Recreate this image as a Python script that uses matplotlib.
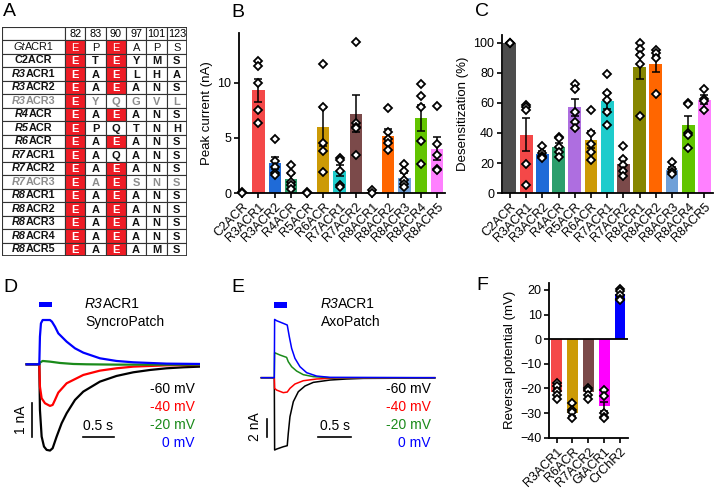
import numpy as np
import matplotlib
matplotlib.use('Agg')
import matplotlib.pyplot as plt
from matplotlib.patches import Rectangle
from matplotlib.offsetbox import TextArea, HPacker, AnnotationBbox

plt.rcParams['font.family'] = ['Liberation Sans', 'DejaVu Sans']

# ---------------------------------------------------------------- data
# panel A: residues at the listed positions
SITES = ['82', '83', '90', '97', '101', '123']
TABLE_PREFIX = ['Gt', '', 'R3', 'R3', 'R3', 'R4', 'R5', 'R6', 'R7', 'R7', 'R7',
                'R8', 'R8', 'R8', 'R8', 'R8']
TABLE_SUFFIX = ['ACR1', 'C2ACR', 'ACR1', 'ACR2', 'ACR3', 'ACR', 'ACR', 'ACR',
                'ACR1', 'ACR2', 'ACR3', 'ACR1', 'ACR2', 'ACR3', 'ACR4', 'ACR5']
RESIDUES = ['EPEAPS', 'ETEYMS', 'EAELHA', 'EAEANS', 'EYQGVL', 'EAEANS',
            'EPQTNH', 'EAEANS', 'EAQANS', 'EAEANS', 'EAESNS', 'EAEANS',
            'EAEANS', 'EAEANS', 'EAEANS', 'EAEAMS']
GRAY_ROWS = [4, 10]          # R3ACR3, R7ACR3
LIGHT_ROWS = [0]             # GtACR1 (regular weight)

# panels B, C
ACRS = ['C2ACR', 'R3ACR1', 'R3ACR2', 'R4ACR', 'R5ACR', 'R6ACR', 'R7ACR1',
        'R7ACR2', 'R8ACR1', 'R8ACR2', 'R8ACR3', 'R8ACR4', 'R8ACR5']
ACR_COLORS = ['#4d4d4d', '#f44848', '#1f6bd8', '#2c9e6c', '#ae6ee0', '#cc9a06',
              '#1ecccc', '#7b4a4a', '#868600', '#ff6600', '#6fa0d8', '#62c400',
              '#ff80ff']

PEAK_MEAN = [0.05, 9.3, 2.7, 1.3, 0.05, 6.0, 2.0, 7.2, 0.1, 5.2, 1.4, 6.8, 4.0]
PEAK_SEM = [0, 1.05, 0.55, 0.45, 0, 1.7, 0.5, 1.65, 0.05, 0.6, 0.45, 1.15, 1.05]
PEAK_PTS = [[0.05, 0.0],
            [12.0, 11.5, 10.0, 7.5, 6.3],
            [4.9, 2.9, 2.4, 1.8, 1.6],
            [2.5, 1.8, 1.0, 0.7, 0.4],
            [0.05, 0.0],
            [11.7, 7.8, 4.5, 3.8, 1.9],
            [3.2, 3.0, 2.0, 0.7, 0.5],
            [13.7, 6.3, 6.0, 5.9, 3.4],
            [0.3, 0.0],
            [7.7, 5.5, 4.9, 4.5, 3.9],
            [2.6, 2.0, 1.2, 0.8, 0.5],
            [9.9, 8.8, 7.8, 4.7, 2.6],
            [7.9, 4.4, 3.4, 2.2, 2.1]]

DES_MEAN = [100, 39, 26, 30.5, 57, 35.5, 61.5, 19.5, 84, 86, 15.5, 45.5, 62]
DES_SEM = [0, 11, 1.8, 3, 5.8, 5.5, 5.8, 4, 8.5, 5.3, 1.8, 6, 3]
DES_PTS = [[100, 100, 100, 99.5],
           [58.5, 57, 55.5, 19.2, 5.5],
           [31.6, 26.5, 25, 24, 23.5],
           [37.5, 36.5, 31, 27.7, 24],
           [72.5, 69.5, 54, 47, 43],
           [55, 40, 32.5, 27.5, 22],
           [79, 66.5, 62, 54, 45.5],
           [31.5, 23, 19, 14.5, 11.5],
           [100, 95.5, 92, 85.5, 51.5],
           [95, 93, 90, 66],
           [21, 16, 14, 13],
           [60, 59.5, 40, 38.5, 30],
           [69.5, 62.5, 61.5, 55.5]]

# panel F
REV_LABELS = ['R3ACR1', 'R6ACR', 'R7ACR2', 'GtACR1', 'CrChR2']
REV_COLORS = ['#f44848', '#cc9a06', '#7b4a4a', '#ff00ff', '#0000ff']
REV_MEAN = [-21.5, -30, -21.5, -27.3, 18.5]
REV_SEM = [1.2, 1.3, 1.0, 1.8, 0.9]
REV_PTS = [[-17.8, -19, -21.2, -22.6, -24.2],
           [-26, -28.6, -29.6, -32],
           [-19.9, -20.5, -22.6, -24.2],
           [-20.8, -23, -30, -31.6, -32],
           [20.4, 19.7, 18, 16.4, 15.7]]

# panel D: SyncroPatch traces (time s, current nA)
D_T_M60 = [-0.2, 0, 0.01, 0.037, 0.074, 0.116, 0.169, 0.211, 0.274, 0.353, 0.432,
           0.564, 0.695, 0.958, 1.22, 1.485, 1.75, 2.01, 2.275, 2.54]
D_I_M60 = [0, 0, -1.37, -2.17, -2.47, -2.57, -2.59, -2.52, -2.17, -1.77, -1.47,
           -1.07, -0.82, -0.52, -0.35, -0.24, -0.17, -0.12, -0.09, -0.07]
D_T_M40 = [-0.2, 0, 0.01, 0.037, 0.09, 0.169, 0.211, 0.248, 0.3, 0.432, 0.695,
           0.958, 1.22, 1.485, 2.01, 2.54]
D_I_M40 = [0, 0, -0.67, -1.02, -1.17, -1.25, -1.22, -1.07, -0.85, -0.57, -0.32,
           -0.19, -0.12, -0.07, -0.03, -0.02]
D_T_M20 = [-0.2, 0, 0.01, 0.053, 0.169, 0.327, 0.537, 0.748, 1.22, 2.54]
D_I_M20 = [0, 0, 0.05, 0.1, 0.08, 0.04, 0.01, 0.0, -0.01, -0.01]
D_T_0 = [-0.2, 0, 0.01, 0.026, 0.053, 0.169, 0.2, 0.248, 0.3, 0.432, 0.564, 0.695,
         0.958, 1.22, 1.485, 2.01, 2.54]
D_I_0 = [0, 0, 0.83, 1.23, 1.33, 1.33, 1.28, 1.13, 0.93, 0.68, 0.48, 0.35, 0.18,
         0.1, 0.06, 0.02, 0.01]

# panel E: AxoPatch traces (time s, current nA)
E_T_M60 = [-0.2, 0, 0.005, 0.036, 0.139, 0.2, 0.216, 0.242, 0.294, 0.371, 0.474,
           0.603, 0.861, 1.118, 1.376, 2.48]
E_I_M60 = [0, 0, -8.36, -8.25, -7.98, -7.86, -6.44, -4.51, -2.77, -1.62, -0.96,
           -0.54, -0.27, -0.15, -0.08, -0.04]
E_T_M40 = [-0.2, 0, 0.005, 0.036, 0.139, 0.2, 0.242, 0.319, 0.448, 0.654, 0.963, 2.48]
E_I_M40 = [0, 0, -1.23, -1.43, -1.73, -1.66, -1.23, -0.73, -0.35, -0.15, -0.04, 0]
E_T_M20 = [-0.2, 0, 0.005, 0.088, 0.19, 0.216, 0.268, 0.345, 0.448, 0.603, 0.861, 2.48]
E_I_M20 = [0, 0, 2.89, 2.62, 2.35, 1.85, 1.27, 0.77, 0.35, 0.12, 0, 0]
E_T_0 = [-0.2, 0, 0.005, 0.036, 0.139, 0.2, 0.232, 0.268, 0.319, 0.397, 0.5, 0.654,
         0.861, 2.48]
E_I_0 = [0, 0, 6.74, 6.59, 6.28, 6.09, 4.74, 3.39, 2.24, 1.27, 0.58, 0.19, 0.04, 0]

VOLT_LABELS = ['-60 mV', '-40 mV', '-20 mV', '0 mV']
VOLT_COLORS = ['black', '#ff0000', '#1a8a1a', '#0000ff']
LIGHT_DUR = 0.2   # s
RED = '#ee1c25'

# ---------------------------------------------------------------- figure
W, H = 714, 495
fig = plt.figure(figsize=(W / 100, H / 100), dpi=100)


def box(x0, y0, x1, y1):
    # pixel box (top-left origin) -> figure fraction rect
    return [x0 / W, 1 - y1 / H, (x1 - x0) / W, (y1 - y0) / H]


def ftext(x, y, s, **kw):
    fig.text(x / W, 1 - y / H, s, **kw)


def mixed_label(ax, x, y, prefix, rest, size, weight='normal', color='k',
                halign=0.5, coords='data'):
    parts = []
    if prefix:
        parts.append(TextArea(prefix, textprops=dict(fontsize=size, fontweight=weight,
                                                     fontstyle='italic', color=color)))
    parts.append(TextArea(rest, textprops=dict(fontsize=size, fontweight=weight, color=color)))
    pack = HPacker(children=parts, align='baseline', pad=0, sep=0)
    ab = AnnotationBbox(pack, (x, y), xycoords=coords, frameon=False,
                        box_alignment=(halign, 0.5), pad=0, annotation_clip=False)
    ax.add_artist(ab)


# ---------------- A: table
axA = fig.add_axes(box(2, 26.7, 187, 256.2))
name_w = 3.1
edges = [0, name_w] + [name_w + i + 1 for i in range(len(SITES))]
n_rows = len(RESIDUES) + 1
axA.set_xlim(0, edges[-1])
axA.set_ylim(n_rows, 0)
axA.axis('off')
for r in range(n_rows):
    for c in range(len(edges) - 1):
        x0, w = edges[c], edges[c + 1] - edges[c]
        fc = 'white'
        if r > 0 and c > 0 and RESIDUES[r - 1][c - 1] == 'E':
            fc = RED
        axA.add_patch(Rectangle((x0, r), w, 1, facecolor=fc, edgecolor='#333333', lw=0.8))
for c, s in enumerate(SITES):
    axA.text((edges[c + 1] + edges[c + 2]) / 2, 0.55, s, ha='center', va='center', fontsize=7.8)
for i, res in enumerate(RESIDUES):
    r = i + 1
    col = '#8c8c8c' if i in GRAY_ROWS else '#111111'
    wt = 'normal' if i in LIGHT_ROWS else 'bold'
    mixed_label(axA, name_w / 2, r + 0.5, TABLE_PREFIX[i], TABLE_SUFFIX[i], 7.8, wt, col)
    for c, aa in enumerate(res):
        tc = 'white' if aa == 'E' else col
        axA.text((edges[c + 1] + edges[c + 2]) / 2, r + 0.55, aa, ha='center', va='center',
                 fontsize=8, fontweight=wt, color=tc)
axA.add_patch(Rectangle((0, 0), edges[-1], n_rows, fill=False, edgecolor='#333333', lw=1.3))


# ---------------- B, C, F bar panels
def bar_panel(rect, labels, means, sems, points, colors, xlim, ylim, yticks, ylabel, width):
    ax = fig.add_axes(box(*rect))
    x = np.arange(len(labels))
    ax.bar(x, means, width=width, color=colors, zorder=1)
    ax.errorbar(x, means, yerr=sems, fmt='none', ecolor='k', elinewidth=1.1,
                capsize=3, capthick=1.1, zorder=2)
    for xi, pts in zip(x, points):
        ax.plot([xi] * len(pts), pts, ls='none', marker='D', ms=3.9, mfc='white',
                mec='k', mew=1.3, zorder=3, clip_on=False)
    ax.set_xlim(*xlim)
    ax.set_ylim(*ylim)
    ax.set_yticks(yticks)
    ax.set_xticks(x)
    ax.set_xticklabels(labels, rotation=45, ha='right', rotation_mode='anchor')
    ax.set_ylabel(ylabel, fontsize=9.5, labelpad=3)
    for s in ('top', 'right'):
        ax.spines[s].set_visible(False)
    for s in ('left', 'bottom'):
        ax.spines[s].set_linewidth(1.3)
    ax.tick_params(direction='out', length=3.5, width=1.2, labelsize=9, pad=2)
    return ax


bar_panel((239, 33, 445, 193), ACRS, PEAK_MEAN, PEAK_SEM, PEAK_PTS, ACR_COLORS,
          (-0.2, 12.5), (0, 14.5), [0, 5, 10], 'Peak current (nA)', 0.75)
bar_panel((501.7, 35, 713, 193.3), ACRS, DES_MEAN, DES_SEM, DES_PTS, ACR_COLORS,
          (-0.51, 12.53), (0, 105), [0, 20, 40, 60, 80, 100], 'Desensitization (%)', 0.8)
axF = bar_panel((549.3, 283, 628, 437.7), REV_LABELS, REV_MEAN, REV_SEM, REV_PTS,
                REV_COLORS, (-0.46, 4.5), (-40, 22.8), [-40, -30, -20, -10, 0, 10, 20],
                'Reversal potential (mV)', 0.67)
axF.axhline(0, color='k', lw=1.3, zorder=2.5)


# ---------------- D, E traces
def trace_panel(rect, onset_px, base_px, px_per_s, px_per_na, traces, lw):
    ax = fig.add_axes(box(*rect))
    x0, y0, x1, y1 = rect
    ax.set_xlim((x0 - onset_px) / px_per_s, (x1 - onset_px) / px_per_s)
    ax.set_ylim((base_px - y1) / px_per_na, (base_px - y0) / px_per_na)
    ax.axis('off')
    for (t, i), c in zip(traces, VOLT_COLORS):
        ax.plot(t, i, color=c, lw=lw, solid_joinstyle='round')
    return ax


axD = trace_panel((20, 295, 200, 460), 39.3, 364.3, 63.3, 33.3,
                  [(D_T_M60, D_I_M60), (D_T_M40, D_I_M40), (D_T_M20, D_I_M20), (D_T_0, D_I_0)], 1.6)
axD.add_patch(Rectangle((0, 1.71), LIGHT_DUR, 0.17, color='#0000ff', lw=0))
axD.plot([0.686, 0.686 + 0.5], [-2.174, -2.174], color='k', lw=1.2, clip_on=False)
axD.plot([-0.11, -0.11], [-2.17, -2.17 + 1], color='k', lw=1.2, clip_on=False)

axE = trace_panel((250, 295, 440, 460), 274.3, 377.7, 64.7, 8.65,
                  [(E_T_M60, E_I_M60), (E_T_M40, E_I_M40), (E_T_M20, E_I_M20), (E_T_0, E_I_0)], 1.1)
axE.add_patch(Rectangle((0, 8.02), LIGHT_DUR, 0.77, color='#0000ff', lw=0))
axE.plot([0.68, 0.68 + 0.5], [-6.82, -6.82], color='k', lw=1.2, clip_on=False)
axE.plot([-0.108, -0.108], [-6.8, -6.8 + 2], color='k', lw=1.2, clip_on=False)

mixed_label(axD, 85 / W, 1 - 304 / H, 'R3', 'ACR1', 10, halign=0, coords='figure fraction')
ftext(85, 322, 'SyncroPatch', fontsize=10, va='center')
mixed_label(axE, 320.7 / W, 1 - 304 / H, 'R3', 'ACR1', 10, halign=0, coords='figure fraction')
ftext(320.7, 322, 'AxoPatch', fontsize=10, va='center')

for k, (lab, c) in enumerate(zip(VOLT_LABELS, VOLT_COLORS)):
    ftext(195, 389.3 + k * 17.8, lab, color=c, fontsize=10, ha='right', va='center')
    ftext(431, 389.3 + k * 18, lab, color=c, fontsize=10, ha='right', va='center')

ftext(98.3, 426, '0.5 s', fontsize=10, ha='center', va='center')
ftext(335, 426, '0.5 s', fontsize=10, ha='center', va='center')
ftext(20.7, 420, '1 nA', fontsize=10, ha='center', va='center', rotation=90)
ftext(255, 427, '2 nA', fontsize=10, ha='center', va='center', rotation=90)

# panel letters
for lab, x, y in [('A', 3, 11), ('B', 231, 12.5), ('C', 475, 12),
                  ('D', 3, 288), ('E', 231, 287), ('F', 476, 285)]:
    ftext(x, y, lab, fontsize=14, va='center', ha='left')

fig.savefig('out.png', dpi=100)
